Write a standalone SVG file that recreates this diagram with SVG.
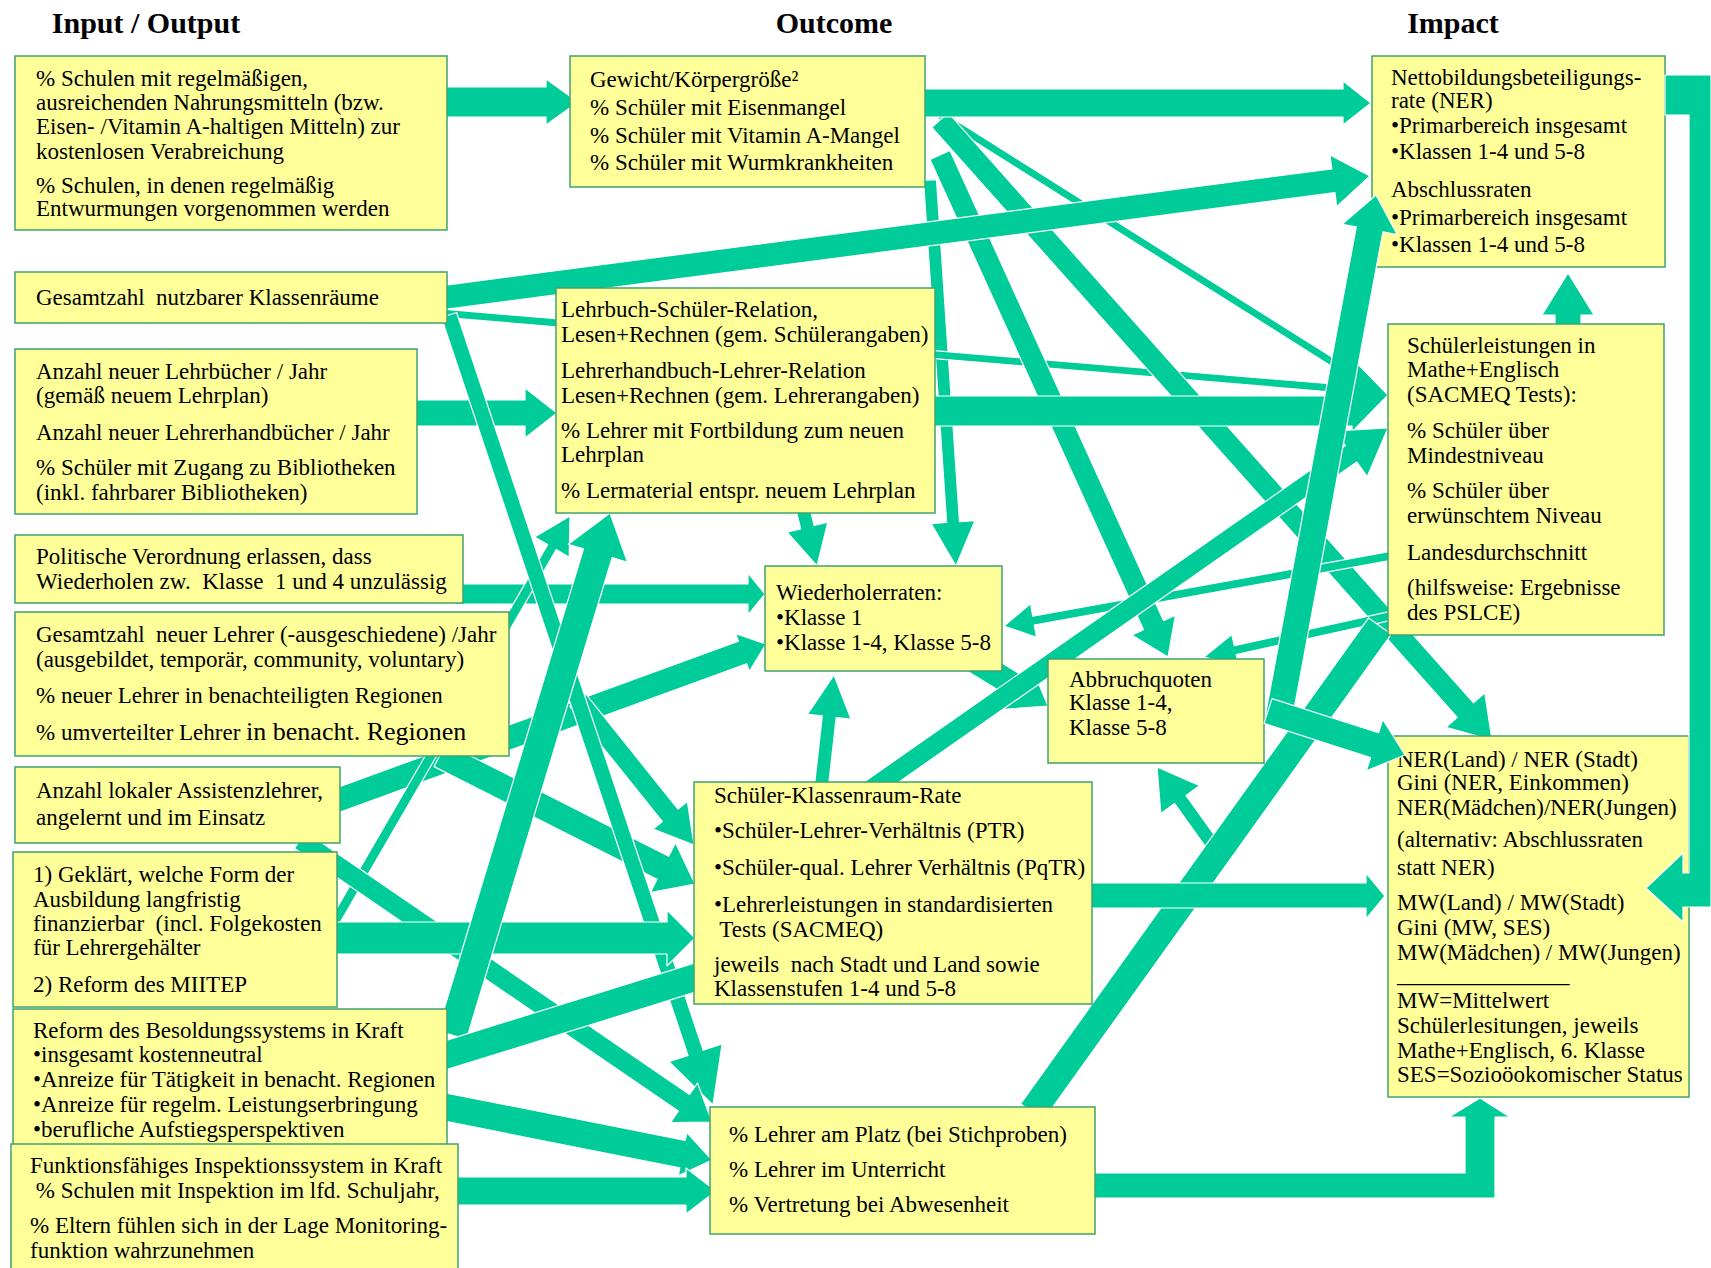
<svg xmlns="http://www.w3.org/2000/svg" width="1711" height="1268" viewBox="0 0 1711 1268">
<style>
.bg{fill:#fff}
.box{fill:#FFFF99;stroke:#3FA36E;stroke-width:1.5}
.ar{fill:#00CC99;stroke:#fff;stroke-width:1.2;stroke-linejoin:round}
.t{font-family:"Liberation Serif","Times New Roman",serif;font-size:23px;fill:#000;white-space:pre}
.h{font-family:"Liberation Serif","Times New Roman",serif;font-size:30px;font-weight:bold;fill:#000;text-anchor:middle}
</style>
<rect class="bg" x="0" y="0" width="1711" height="1268"/>
<g id="headers">
<text class="h" x="146" y="33">Input / Output</text>
<text class="h" x="834" y="33">Outcome</text>
<text class="h" x="1453" y="33">Impact</text>
</g>
<g id="connectors">
<polygon class="ar" points="923.5,180.4 946.6,522.5 931.1,523.6 956,566 975.0,520.6 959.5,521.7 936.5,179.6"/>
<polygon class="ar" points="937.9,118.4 1353.9,380.4 1358.1,373.6 942.1,111.6"/>
<polygon class="ar" points="439.7,317.0 1355.7,394.0 1356.3,386.0 440.3,309.0"/>
<polygon class="ar" points="948.2,112.7 1473.6,702.8 1484.8,692.8 1492,740 1446.0,727.4 1457.2,717.4 931.8,127.3"/>
<polygon class="ar" points="950.0,150.5 1163.5,620.6 1175.4,615.2 1168,657 1131.7,635.1 1143.5,629.7 930.0,159.5"/>
<polygon class="ar" points="438.4,286.1 1331.8,168.9 1329.9,155.0 1370,176 1336.7,206.6 1334.9,192.7 441.6,309.9"/>
<polygon class="ar" points="440,87 546,87 546,79 578,102 546,125 546,117 440,117"/>
<polygon class="ar" points="920,89 1343,89 1343,81 1371,103 1343,125 1343,117 920,117"/>
<polygon class="ar" points="930,396 1352,396 1352,358 1388,395 1352,432 1352,426 930,426"/>
<polygon class="ar" points="410,400 525,400 525,388 557,413 525,438 525,426 410,426"/>
<polygon class="ar" points="808.8,503.3 814.2,525.5 827.8,522.2 817,566 787.1,532.2 800.7,528.8 795.2,506.7"/>
<polygon class="ar" points="1389.2,551.6 1032.7,616.2 1030.5,603.9 1004,626 1036.6,637.4 1034.3,625.1 1390.8,560.4"/>
<polygon class="ar" points="1389.0,611.6 1234.3,645.7 1231.8,634.5 1204,657 1238.7,665.7 1236.2,654.5 1391.0,620.4"/>
<polygon class="ar" points="966.5,641.3 1023.9,676.5 1030.9,665.0 1048,706 1003.7,709.3 1010.8,697.8 953.5,662.7"/>
<polygon class="ar" points="864.3,781.8 1345.4,445.6 1335.1,430.8 1388,428 1367.2,476.7 1356.8,462.0 875.7,798.2"/>
<polygon class="ar" points="814.0,789.2 822.3,715.9 807.4,714.3 834,675 851.1,719.2 836.2,717.5 828.0,790.8"/>
<polygon class="ar" points="455,584 748,584 748,573 765,594 748,615 748,604 455,604"/>
<polygon class="ar" points="325.9,791.7 738.4,641.3 735.7,633.8 766,644 749.4,671.4 746.6,663.8 334.1,814.3"/>
<polygon class="ar" points="325.7,927.5 547.6,544.6 534.6,537.1 570,516 569.2,557.2 556.3,549.6 334.3,932.5"/>
<polygon class="ar" points="445.9,743.4 668.7,856.2 675.5,842.8 695,884 650.2,892.7 657.0,879.4 434.1,766.6"/>
<polygon class="ar" points="585.5,693.7 678.0,809.1 687.4,801.6 694,845 653.1,829.1 662.4,821.6 569.9,706.3"/>
<polygon class="ar" points="456.6,312.5 703.2,1050.3 722.1,1044.0 713,1105 669.0,1061.7 688.0,1055.4 441.4,317.5"/>
<polygon class="ar" points="305.6,831.7 689.6,1094.5 697.5,1083.0 712,1122 670.4,1122.6 678.3,1111.1 294.4,848.3"/>
<polygon class="ar" points="330,922 667,922 667,910 695,938 667,966 667,954 330,954"/>
<polygon class="ar" points="437.6,1030.7 583.5,548.9 568.2,544.2 610,513 627.5,562.2 612.2,557.5 466.4,1039.3"/>
<polygon class="ar" points="435.8,1043.6 695.8,962.6 704.2,989.4 444.2,1070.4"/>
<polygon class="ar" points="442.7,1092.3 685.3,1140.4 686.9,1132.6 712,1160 678.3,1175.7 679.8,1167.9 437.3,1119.7"/>
<polygon class="ar" points="450,1177 686,1177 686,1168 716,1191 686,1214 686,1205 450,1205"/>
<polygon class="ar" points="1209.3,852.1 1174.6,803.6 1160.8,813.5 1157,767 1199.8,785.6 1186.0,795.4 1220.7,843.9"/>
<polygon class="ar" points="1020.6,1103.9 1368.6,617.9 1391.4,634.2 1043.4,1120.2"/>
<polygon class="ar" points="1085,883 1366,883 1366,873 1385,896 1366,919 1366,908 1085,908"/>
<polygon class="ar" points="1088,1173 1465,1173 1465,1117 1449,1117 1480,1098 1510,1117 1495,1117 1495,1198 1088,1198"/>
<polygon class="ar" points="1555,330 1555,315 1542,315 1568,273 1594,315 1581,315 1581,330"/>
</g>
<g id="B1"><rect class="box" x="15" y="56" width="432" height="174"/>
<text class="t" x="36" y="86">% Schulen mit regelmäßigen,</text>
<text class="t" x="36" y="110">ausreichenden Nahrungsmitteln (bzw.</text>
<text class="t" x="36" y="134">Eisen- /Vitamin A-haltigen Mitteln) zur</text>
<text class="t" x="36" y="159">kostenlosen Verabreichung</text>
<text class="t" x="36" y="193">% Schulen, in denen regelmäßig</text>
<text class="t" x="36" y="216">Entwurmungen vorgenommen werden</text></g>
<g id="B2"><rect class="box" x="15" y="272" width="432" height="51"/>
<text class="t" x="36" y="305">Gesamtzahl  nutzbarer Klassenräume</text></g>
<g id="B3"><rect class="box" x="15" y="349" width="402" height="165"/>
<text class="t" x="36" y="379">Anzahl neuer Lehrbücher / Jahr</text>
<text class="t" x="36" y="403">(gemäß neuem Lehrplan)</text>
<text class="t" x="36" y="440">Anzahl neuer Lehrerhandbücher / Jahr</text>
<text class="t" x="36" y="475">% Schüler mit Zugang zu Bibliotheken</text>
<text class="t" x="36" y="500">(inkl. fahrbarer Bibliotheken)</text></g>
<g id="B4"><rect class="box" x="15" y="535" width="448" height="68"/>
<text class="t" x="36" y="564">Politische Verordnung erlassen, dass</text>
<text class="t" x="36" y="589">Wiederholen zw.  Klasse  1 und 4 unzulässig</text></g>
<g id="B5"><rect class="box" x="15" y="612" width="494" height="144"/>
<text class="t" x="36" y="642">Gesamtzahl  neuer Lehrer (-ausgeschiedene) /Jahr</text>
<text class="t" x="36" y="667">(ausgebildet, temporär, community, voluntary)</text>
<text class="t" x="36" y="703">% neuer Lehrer in benachteiligten Regionen</text>
<text class="t" x="36" y="740">% umverteilter Lehrer <tspan font-size="26">in benacht. Regionen</tspan></text></g>
<g id="B6"><rect class="box" x="15" y="767" width="325" height="76"/>
<text class="t" x="36" y="798">Anzahl lokaler Assistenzlehrer,</text>
<text class="t" x="36" y="825">angelernt und im Einsatz</text></g>
<g id="B7"><rect class="box" x="13" y="852" width="324" height="155"/>
<text class="t" x="33" y="882">1) Geklärt, welche Form der</text>
<text class="t" x="33" y="907">Ausbildung langfristig</text>
<text class="t" x="33" y="931">finanzierbar  (incl. Folgekosten</text>
<text class="t" x="33" y="955">für Lehrergehälter</text>
<text class="t" x="33" y="992">2) Reform des MIITEP</text></g>
<g id="B8"><rect class="box" x="13" y="1009" width="434" height="138"/>
<text class="t" x="33" y="1038">Reform des Besoldungssystems in Kraft</text>
<text class="t" x="33" y="1062">•insgesamt kostenneutral</text>
<text class="t" x="33" y="1087">•Anreize für Tätigkeit in benacht. Regionen</text>
<text class="t" x="33" y="1112">•Anreize für regelm. Leistungserbringung</text>
<text class="t" x="33" y="1137">•berufliche Aufstiegsperspektiven</text></g>
<g id="B9"><rect class="box" x="11" y="1144" width="447" height="135"/>
<text class="t" x="30" y="1173">Funktionsfähiges Inspektionssystem in Kraft</text>
<text class="t" x="30" y="1198"> % Schulen mit Inspektion im lfd. Schuljahr,</text>
<text class="t" x="30" y="1233">% Eltern fühlen sich in der Lage Monitoring-</text>
<text class="t" x="30" y="1258">funktion wahrzunehmen</text></g>
<g id="O1"><rect class="box" x="570" y="56" width="355" height="131"/>
<text class="t" x="590" y="87">Gewicht/Körpergröße²</text>
<text class="t" x="590" y="115">% Schüler mit Eisenmangel</text>
<text class="t" x="590" y="143">% Schüler mit Vitamin A-Mangel</text>
<text class="t" x="590" y="170">% Schüler mit Wurmkrankheiten</text></g>
<g id="O2"><rect class="box" x="556" y="288" width="379" height="225"/>
<text class="t" x="561" y="317">Lehrbuch-Schüler-Relation,</text>
<text class="t" x="561" y="342">Lesen+Rechnen (gem. Schülerangaben)</text>
<text class="t" x="561" y="378">Lehrerhandbuch-Lehrer-Relation</text>
<text class="t" x="561" y="403">Lesen+Rechnen (gem. Lehrerangaben)</text>
<text class="t" x="561" y="438">% Lehrer mit Fortbildung zum neuen</text>
<text class="t" x="561" y="462">Lehrplan</text>
<text class="t" x="561" y="498">% Lermaterial entspr. neuem Lehrplan</text></g>
<g id="O3"><rect class="box" x="765" y="566" width="237" height="105"/>
<text class="t" x="776" y="600">Wiederholerraten:</text>
<text class="t" x="776" y="625">•Klasse 1</text>
<text class="t" x="776" y="650">•Klasse 1-4, Klasse 5-8</text></g>
<g id="O4"><rect class="box" x="1048" y="659" width="216" height="104"/>
<text class="t" x="1069" y="687">Abbruchquoten</text>
<text class="t" x="1069" y="710">Klasse 1-4,</text>
<text class="t" x="1069" y="735">Klasse 5-8</text></g>
<g id="O5"><rect class="box" x="694" y="782" width="398" height="222"/>
<text class="t" x="714" y="803">Schüler-Klassenraum-Rate</text>
<text class="t" x="714" y="838">•Schüler-Lehrer-Verhältnis (PTR)</text>
<text class="t" x="714" y="875">•Schüler-qual. Lehrer Verhältnis (PqTR)</text>
<text class="t" x="714" y="912">•Lehrerleistungen in standardisierten</text>
<text class="t" x="714" y="937"> Tests (SACMEQ)</text>
<text class="t" x="714" y="972">jeweils  nach Stadt und Land sowie</text>
<text class="t" x="714" y="996">Klassenstufen 1-4 und 5-8</text></g>
<g id="O6"><rect class="box" x="710" y="1107" width="385" height="127"/>
<text class="t" x="729" y="1142">% Lehrer am Platz (bei Stichproben)</text>
<text class="t" x="729" y="1177">% Lehrer im Unterricht</text>
<text class="t" x="729" y="1212">% Vertretung bei Abwesenheit</text></g>
<g id="I1"><rect class="box" x="1372" y="56" width="293" height="211"/>
<text class="t" x="1391" y="85">Nettobildungsbeteiligungs-</text>
<text class="t" x="1391" y="108">rate (NER)</text>
<text class="t" x="1391" y="133">•Primarbereich insgesamt</text>
<text class="t" x="1391" y="159">•Klassen 1-4 und 5-8</text>
<text class="t" x="1391" y="197">Abschlussraten</text>
<text class="t" x="1391" y="225">•Primarbereich insgesamt</text>
<text class="t" x="1391" y="252">•Klassen 1-4 und 5-8</text></g>
<g id="I2"><rect class="box" x="1388" y="324" width="276" height="311"/>
<text class="t" x="1407" y="353">Schülerleistungen in</text>
<text class="t" x="1407" y="377">Mathe+Englisch</text>
<text class="t" x="1407" y="402">(SACMEQ Tests):</text>
<text class="t" x="1407" y="438">% Schüler über</text>
<text class="t" x="1407" y="463">Mindestniveau</text>
<text class="t" x="1407" y="498">% Schüler über</text>
<text class="t" x="1407" y="523">erwünschtem Niveau</text>
<text class="t" x="1407" y="560">Landesdurchschnitt</text>
<text class="t" x="1407" y="595">(hilfsweise: Ergebnisse</text>
<text class="t" x="1407" y="620">des PSLCE)</text></g>
<g id="I3"><rect class="box" x="1388" y="736" width="301" height="361"/>
<text class="t" x="1397" y="767">NER(Land) / NER (Stadt)</text>
<text class="t" x="1397" y="790">Gini (NER, Einkommen)</text>
<text class="t" x="1397" y="815">NER(Mädchen)/NER(Jungen)</text>
<text class="t" x="1397" y="847">(alternativ: Abschlussraten</text>
<text class="t" x="1397" y="875">statt NER)</text>
<text class="t" x="1397" y="910">MW(Land) / MW(Stadt)</text>
<text class="t" x="1397" y="935">Gini (MW, SES)</text>
<text class="t" x="1397" y="960">MW(Mädchen) / MW(Jungen)</text>
<text class="t" x="1397" y="982">_______________</text>
<text class="t" x="1397" y="1008">MW=Mittelwert</text>
<text class="t" x="1397" y="1033">Schülerlesitungen, jeweils</text>
<text class="t" x="1397" y="1058">Mathe+Englisch, 6. Klasse</text>
<text class="t" x="1397" y="1082">SES=Sozioöokomischer Status</text></g>
<g id="connectors-over">
<polygon class="ar" points="1265.7,713.5 1356.3,226.9 1342.1,224.3 1376,195 1397.1,234.5 1382.9,231.9 1292.3,718.5"/>
<polygon class="ar" points="1272.0,698.6 1378.5,732.8 1382.8,719.5 1405,755 1366.3,770.9 1370.6,757.6 1264.0,723.4"/>
<polygon class="ar" points="1665,75 1711,75 1711,907 1683,907 1683,922 1646,888 1683,853 1683,873 1689,873 1689,115 1665,115"/>
</g>
</svg>
